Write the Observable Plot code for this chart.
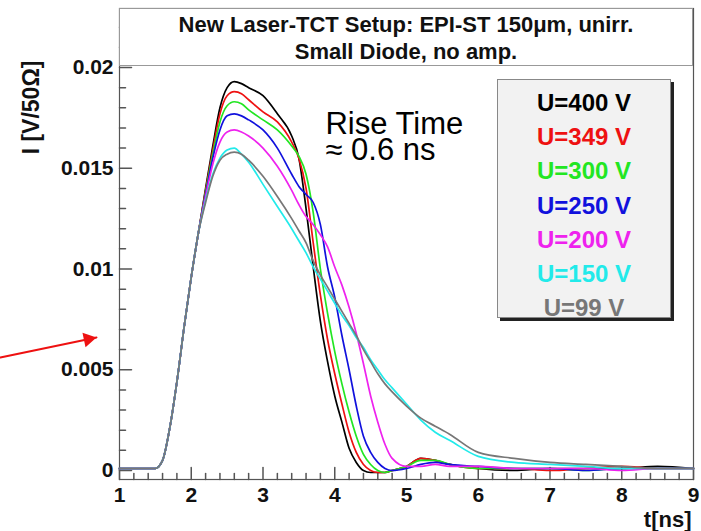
<!DOCTYPE html>
<html>
<head>
<meta charset="utf-8">
<script src="https://cdn.jsdelivr.net/npm/d3@7"></script>
<script src="https://cdn.jsdelivr.net/npm/@observablehq/plot@0.6"></script>
<style>
  html, body { margin: 0; padding: 0; background: #fff; }
  #wrap { position: relative; width: 701px; height: 531px; font-family: "Liberation Sans", Arial, sans-serif; }
  #title { position: absolute; left: 119px; top: 8px; width: 574px; height: 58px; box-sizing: border-box;
           border: 1px solid #999; background: #fff; text-align: center; font-weight: bold; font-size: 22px;
           line-height: 27px; padding-top: 2px; color: #111; }
  #legend { position: absolute; left: 497px; top: 79px; width: 174px; height: 239px; box-sizing: border-box;
            border: 1px solid #888; background: #f2f2f2; box-shadow: 3px 3px 0 #222; overflow: hidden; }
  #legend div { position: absolute; left: 0; width: 100%; text-align: center; font-weight: bold; font-size: 24px;
                height: 34px; line-height: 34px; }
</style>
</head>
<body>
<div id="wrap">
  <div id="plot"></div>
  <div id="title"></div>
  <div id="legend"></div>
</div>
<script>
// ---- data ----
const titleLines = ["New Laser-TCT Setup: EPI-ST 150μm, unirr.", "Small Diode, no amp."];
const labels = ["U=400 V", "U=349 V", "U=300 V", "U=250 V", "U=200 V", "U=150 V", "U=99 V"];
const colors = ["#000000", "#ee1111", "#22e622", "#1111dd", "#ee22ee", "#22eaea", "#777777"];
const t = [1.0,1.5,1.6,1.7,1.8,1.9,2.0,2.1,2.2,2.3,2.4,2.5,2.6,2.7,2.8,3.0,3.2,3.4,3.5,3.6,3.7,3.8,3.9,4.0,4.1,4.2,4.3,4.4,4.5,4.6,4.7,4.8,5.0,5.2,5.4,5.6,6.0,6.5,7.0,7.5,8.0,8.5,9.0];
const u400 = [0.0001,0.0001,0.0005,0.0021,0.0044,0.0071,0.0096,0.0118,0.0140, 0.0161,0.0180,0.0190,0.0193,0.0192,0.0190, 0.0186,0.0177,0.0166,0.0155, 0.0130,0.0101,0.0074,0.0054,0.0037,0.0024,0.0011,0.0004,0.0000,-0.0001,-0.0001,-0.0001,0.0000, 0.0002,0.0006,0.0005,0.0003,0.0001,0.0000,0.0001,0.0001,0.0001,0.0002,0.0001];
const u349 = [0.0001,0.0001,0.0005,0.0021,0.0044,0.0071,0.0096,0.0118,0.0139, 0.0159,0.0177,0.0186,0.0188,0.0187,0.0184, 0.0178,0.0173,0.0163,0.0155, 0.0140,0.0113,0.0087,0.0065,0.0048,0.0033,0.0019,0.0009,0.0003,0.0000,-0.0001,-0.0001,0.0000, 0.0002,0.0006,0.0005,0.0003,0.0001,0.0001,0.0000,0.0001,0.0002,0.0001,0.0001];
const u300 = [0.0001,0.0001,0.0005,0.0021,0.0044,0.0071,0.0096,0.0118,0.0138, 0.0157,0.0173,0.0181,0.0183,0.0182,0.0179, 0.0174,0.0169,0.0161,0.0156, 0.0147,0.0128,0.0100,0.0078,0.0059,0.0043,0.0029,0.0017,0.0008,0.0003,0.0000,-0.0001,0.0000, 0.0002,0.0005,0.0005,0.0003,0.0001,0.0001,0.0001,0.0000,0.0001,0.0001,0.0001];
const u250 = [0.0001,0.0001,0.0005,0.0021,0.0044,0.0071,0.0096,0.0118,0.0137, 0.0155,0.0169,0.0176,0.0177,0.0176,0.0174, 0.0169,0.0160,0.0147,0.0141, 0.0137,0.0133,0.0122,0.0101,0.0086,0.0067,0.0050,0.0032,0.0017,0.0009,0.0004,0.0001,0.0000, 0.0001,0.0003,0.0004,0.0003,0.0002,0.0001,0.0001,0.0000,0.0001,0.0001,0.0001];
const u200 = [0.0001,0.0001,0.0005,0.0021,0.0044,0.0071,0.0096,0.0118,0.0136, 0.0152,0.0163,0.0168,0.0169,0.0168,0.0166, 0.0160,0.0151,0.0139,0.0132, 0.0126,0.0122,0.0117,0.0111,0.0101,0.0092,0.0081,0.0068,0.0053,0.0037,0.0024,0.0013,0.0006, 0.0002,0.0002,0.0003,0.0002,0.0002,0.0001,0.0001,0.0001,0.0000,0.0001,0.0001];
const u150 = [0.0001,0.0001,0.0005,0.0021,0.0044,0.0071,0.0096,0.0118,0.0134, 0.0147,0.0155,0.0159,0.0160,0.0157,0.0153, 0.0142,0.0131,0.0120,0.0114, 0.0108,0.0101,0.0095,0.0089,0.0083,0.0077,0.0072,0.0066,0.0061,0.0055,0.0050,0.0045,0.0041, 0.0033,0.0025,0.0019,0.0015,0.0007,0.0004,0.0003,0.0002,0.0001,0.0001,0.0001];
const u99  = [0.0001,0.0001,0.0005,0.0021,0.0044,0.0071,0.0096,0.0118,0.0133, 0.0146,0.0154,0.0157,0.0158,0.0157,0.0154, 0.0146,0.0136,0.0125,0.0119, 0.0113,0.0104,0.0097,0.0091,0.0085,0.0079,0.0073,0.0067,0.0060,0.0054,0.0048,0.0043,0.0039, 0.0032,0.0026,0.0022,0.0018,0.0009,0.0006,0.0004,0.0003,0.0002,0.0001,0.0001];
const xMajor = [1,2,3,4,5,6,7,8,9];
const yMajor = [0, 0.005, 0.01, 0.015, 0.02];
const xAxisLabel = "t[ns]";
const yAxisLabel = "I [V/50Ω]";
const riseText = "Rise Time\n≈ 0.6 ns";
const risePos = {t: 3.87, v: 0.01765};
const arrowFrom = {t: -0.661, v: 0.00561};
const arrowTo = {t: 0.679, v: 0.00660};
const xDomain = [1, 9];
const yDomain = [-0.000447, 0.022928];

// ---- build ----
const series = [u400, u349, u300, u250, u200, u150, u99];
const rows = [];
series.forEach((s, k) => s.forEach((v, i) => rows.push({t: t[i], v, U: labels[k]})));
const xMinor = d3.range(10, 91, 2).map(d => d / 10).filter(d => !xMajor.includes(d));
const yMinor = d3.range(0, 23).map(d => d / 1000).filter(d => !yMajor.some(m => Math.abs(m - d) < 1e-9));
const tickShape = {draw(ctx, l) { ctx.moveTo(0, 0); ctx.lineTo(0, -l); }};
const axisCol = "#555";

const chart = Plot.plot({
  width: 701, height: 531,
  marginLeft: 119, marginRight: 8, marginTop: 8, marginBottom: 52,
  style: {fontFamily: "Liberation Sans, Arial, sans-serif", background: "#fff"},
  x: {domain: xDomain},
  y: {domain: yDomain},
  color: {domain: labels, range: colors},
  marks: [
    Plot.frame({stroke: axisCol, strokeWidth: 1.2}),
    Plot.vector(xMinor, {x: d => d, frameAnchor: "bottom", length: 6, rotate: 0, anchor: "start", shape: tickShape, stroke: axisCol}),
    Plot.vector(xMajor, {x: d => d, frameAnchor: "bottom", length: 12, rotate: 0, anchor: "start", shape: tickShape, stroke: axisCol}),
    Plot.vector(yMinor, {y: d => d, frameAnchor: "left", length: 6, rotate: 90, anchor: "start", shape: tickShape, stroke: axisCol}),
    Plot.vector(yMajor, {y: d => d, frameAnchor: "left", length: 12, rotate: 90, anchor: "start", shape: tickShape, stroke: axisCol}),
    Plot.axisX({ticks: xMajor, tickSize: 0, tickPadding: 8, label: null, fontSize: 21, fontWeight: "bold", fill: "#111"}),
    Plot.axisY({ticks: yMajor, tickSize: 0, tickPadding: 6, label: null, fontSize: 21, fontWeight: "bold", fill: "#111",
                tickFormat: d => d === 0 ? "0" : String(d)}),
    Plot.line(rows, {x: "t", y: "v", z: "U", stroke: "U", strokeWidth: 1.7, curve: "monotone-x"}),
    Plot.text([xAxisLabel], {frameAnchor: "bottom-right", dx: -2, dy: 40, textAnchor: "end", lineAnchor: "middle",
                             fontSize: 22, fontWeight: "bold", fill: "#111"}),
    Plot.text([yAxisLabel], {frameAnchor: "top-left", dx: -88, dy: 52, rotate: -90, textAnchor: "end", lineAnchor: "middle",
                             fontSize: 23, fontWeight: "bold", fill: "#111"}),
    Plot.text([riseText], {x: () => risePos.t, y: () => risePos.v, textAnchor: "start", lineAnchor: "top",
                           fontSize: 31, lineHeight: 0.85, fill: "#000"}),
    Plot.arrow([0], {x1: () => arrowFrom.t, y1: () => arrowFrom.v, x2: () => arrowTo.t, y2: () => arrowTo.v,
                     stroke: "#ee1111", strokeWidth: 2, headLength: 0}),
    Plot.dot([0], {x: () => arrowTo.t, y: () => arrowTo.v, symbol: "triangle", r: 5.5, rotate: 78.2,
                   dx: -8.3, dy: 1.7, fill: "#ee1111", stroke: "none"})
  ]
});
document.getElementById("plot").appendChild(chart);

const ttl = document.getElementById("title");
titleLines.forEach((l, i) => {
  if (i) ttl.appendChild(document.createElement("br"));
  ttl.appendChild(document.createTextNode(l));
});

const leg = document.getElementById("legend");
labels.forEach((l, i) => {
  const d = document.createElement("div");
  d.textContent = l;
  d.style.top = (6 + i * 34.2) + "px";
  d.style.color = colors[i];
  leg.appendChild(d);
});
</script>
</body>
</html>
